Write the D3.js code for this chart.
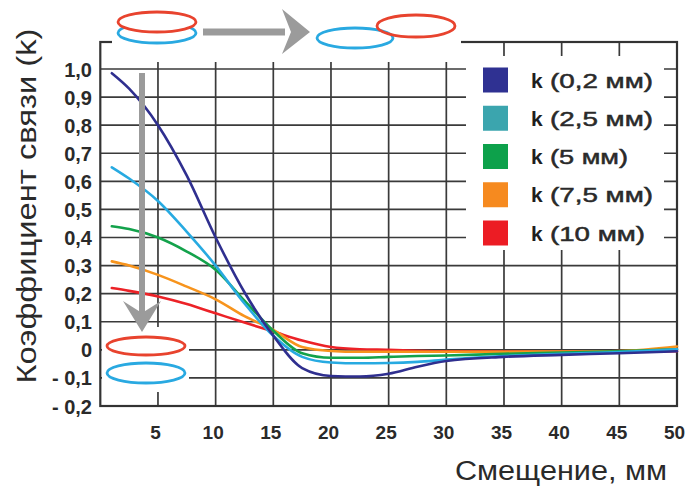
<!DOCTYPE html>
<html>
<head>
<meta charset="utf-8">
<script src="https://cdn.jsdelivr.net/npm/d3@7"></script>
<style>
  html, body { margin: 0; padding: 0; background: #fff; }
  svg { display: block; font-family: "Liberation Sans", Arial, sans-serif; }
</style>
</head>
<body>
<svg id="chart" width="691" height="490"></svg>
<script>
// Displacement of the coils, mm
const offsets = [1, 2.5, 5, 7.5, 10, 12.5, 15, 17.5, 20, 22.5, 25, 27.5, 30, 35, 40, 45, 50];

// Coupling coefficient k for each vertical gap between the coils
const k02  = [0.985, 0.93, 0.80, 0.62, 0.40, 0.205, 0.05, -0.065, -0.093, -0.095, -0.085, -0.06, -0.04, -0.025, -0.018, -0.012, -0.005];
const k25  = [0.65, 0.61, 0.53, 0.42, 0.30, 0.165, 0.05, -0.025, -0.045, -0.048, -0.047, -0.043, -0.035, -0.022, -0.014, -0.008, 0.002];
const k5   = [0.44, 0.43, 0.40, 0.35, 0.285, 0.175, 0.068, -0.012, -0.028, -0.028, -0.025, -0.022, -0.02, -0.014, -0.01, -0.005, 0.002];
const k75  = [0.315, 0.30, 0.267, 0.225, 0.18, 0.12, 0.071, 0.01, -0.004, -0.007, -0.007, -0.007, -0.007, -0.007, -0.006, -0.004, 0.012];
const k10  = [0.22, 0.21, 0.19, 0.163, 0.13, 0.097, 0.065, 0.033, 0.01, 0.002, 0.0, -0.003, -0.005, -0.006, -0.006, -0.006, -0.005];

const seriesGaps = ["(0,2 мм)", "(2,5 мм)", "(5 мм)", "(7,5 мм)", "(10 мм)"];
const seriesValues = [k02, k25, k5, k75, k10];
const lineColors = ["#2f2f8f", "#27aae1", "#13a24b", "#f7941d", "#ec2227"];
const swatchColors = ["#2f3192", "#3ba5ae", "#0da14b", "#f68a1f", "#ec1c24"];

const xTicks = [5, 10, 15, 20, 25, 30, 35, 40, 45, 50];
const yTicks = [-0.2, -0.1, 0, 0.1, 0.2, 0.3, 0.4, 0.5, 0.6, 0.7, 0.8, 0.9, 1.0];

const svg = d3.select("#chart");

const frame = { left: 100.3, right: 677, top: 42, bottom: 406 };
const x = d3.scaleLinear().domain([0, 50]).range([100.3, 677]);
const y = d3.scaleLinear().domain([-0.2, 1.0]).range([406, 69]);

const gridColor = "#3a3a3a";
const textColor = "#2a2a2a";

// Grid
const grid = svg.append("g");
grid.selectAll("line.v").data(xTicks.filter(d => d < 50)).join("line")
  .attr("x1", d => x(d)).attr("x2", d => x(d))
  .attr("y1", frame.top).attr("y2", frame.bottom)
  .attr("stroke", gridColor).attr("stroke-width", 1.7);
grid.selectAll("line.h").data(yTicks.filter(d => d > -0.2)).join("line")
  .attr("x1", frame.left).attr("x2", frame.right)
  .attr("y1", d => y(d)).attr("y2", d => y(d))
  .attr("stroke", gridColor).attr("stroke-width", 1.7);

// Frame
svg.append("rect")
  .attr("x", frame.left).attr("y", frame.top)
  .attr("width", frame.right - frame.left).attr("height", frame.bottom - frame.top)
  .attr("fill", "none").attr("stroke", "#333").attr("stroke-width", 2.2);

// Axis tick labels
const fmt = d => {
  if (Math.abs(d) < 1e-9) return "0";
  const s = Math.abs(d).toFixed(1).replace(".", ",");
  return d < 0 ? "- " + s : s;
};
const yAxis = d3.axisLeft(y).tickValues(yTicks).tickFormat(fmt).tickSize(0).tickPadding(0);
const gy = svg.append("g").attr("transform", "translate(92,0)").call(yAxis);
gy.select(".domain").remove();
gy.selectAll("text")
  .attr("x", 0).attr("dy", "0.35em")
  .attr("font-size", 20).attr("font-weight", "bold").attr("fill", textColor)
  .attr("font-family", "'Liberation Sans', Arial, sans-serif");

const xAxis = d3.axisBottom(x).tickValues(xTicks).tickFormat(d => d).tickSize(0).tickPadding(0);
const gx = svg.append("g").attr("transform", "translate(-3,425)").call(xAxis);
gx.select(".domain").remove();
gx.selectAll("text")
  .attr("y", 0).attr("dy", "0.71em")
  .attr("font-size", 19).attr("font-weight", "bold").attr("fill", textColor)
  .attr("font-family", "'Liberation Sans', Arial, sans-serif");

// Curves
const line = d3.line()
  .x((d, i) => x(offsets[i]))
  .y(d => y(d))
  .curve(d3.curveMonotoneX);
const curveOrder = [4, 3, 2, 1, 0];
svg.append("g").selectAll("path").data(curveOrder).join("path")
  .attr("d", i => line(seriesValues[i]))
  .attr("fill", "none")
  .attr("stroke", i => lineColors[i])
  .attr("stroke-width", 2.6)
  .attr("stroke-linecap", "round");

// White panels over the grid
svg.append("rect").attr("x", 112).attr("y", 0).attr("width", 349).attr("height", 62).attr("fill", "#fff");
svg.append("rect").attr("x", 466).attr("y", 56).attr("width", 198).attr("height", 194).attr("fill", "#fff");
svg.append("rect").attr("x", 102).attr("y", 327).attr("width", 87).attr("height", 65).attr("fill", "#fff");

// Coil diagrams
const red = "#e8432e", blue = "#29a9e1", arrowGray = "#9b9b9b";
const coils = svg.append("g").attr("fill", "none").attr("stroke-width", 2.8);
coils.append("ellipse").attr("cx", 157).attr("cy", 33).attr("rx", 39).attr("ry", 10).attr("stroke", blue);
coils.append("ellipse").attr("cx", 157).attr("cy", 22).attr("rx", 39).attr("ry", 10).attr("stroke", red).attr("fill", "#fff");
coils.append("ellipse").attr("cx", 355).attr("cy", 38).attr("rx", 38).attr("ry", 10).attr("stroke", blue);
coils.append("ellipse").attr("cx", 416).attr("cy", 26).attr("rx", 39).attr("ry", 11).attr("stroke", red);
coils.append("ellipse").attr("cx", 146).attr("cy", 346).attr("rx", 39).attr("ry", 9).attr("stroke", red);
coils.append("ellipse").attr("cx", 146).attr("cy", 373).attr("rx", 39).attr("ry", 10).attr("stroke", blue);

// Gray arrows
svg.append("rect").attr("x", 203).attr("y", 28.5).attr("width", 82).attr("height", 7).attr("fill", arrowGray);
svg.append("polygon").attr("points", "282,9 310,32 282,54 291,32").attr("fill", arrowGray);
svg.append("rect").attr("x", 139).attr("y", 73).attr("width", 6).attr("height", 240).attr("fill", arrowGray);
svg.append("polygon").attr("points", "123,301 142,313 161,301 142,332").attr("fill", arrowGray);

// Legend
const legend = svg.append("g");
const rowY = d3.scalePoint().domain(d3.range(5)).range([80, 233]);
const gapWidths = [103, 103, 78, 103, 95];
seriesGaps.forEach((gap, i) => {
  const cy = rowY(i);
  legend.append("rect").attr("x", 483).attr("y", cy - 12.5).attr("width", 25).attr("height", 25)
    .attr("fill", swatchColors[i]);
  legend.append("text").attr("x", 531).attr("y", cy + 7.5)
    .attr("font-size", 21).attr("font-weight", "bold").attr("fill", "#1e1e1e")
    .text("k");
  legend.append("text").attr("x", 550).attr("y", cy + 7.5)
    .attr("font-size", 21).attr("fill", textColor)
    .attr("stroke", textColor).attr("stroke-width", 0.5)
    .attr("textLength", gapWidths[i]).attr("lengthAdjust", "spacingAndGlyphs")
    .text(gap);
});

// Axis titles
svg.append("text")
  .attr("transform", "translate(36,206) rotate(-90)")
  .attr("text-anchor", "middle")
  .attr("font-size", 27).attr("fill", textColor)
  .attr("textLength", 355).attr("lengthAdjust", "spacingAndGlyphs")
  .text("Коэффициент связи (k)");
svg.append("text")
  .attr("x", 455).attr("y", 480)
  .attr("font-size", 27).attr("fill", textColor)
  .attr("textLength", 212).attr("lengthAdjust", "spacingAndGlyphs")
  .text("Смещение, мм");
</script>
</body>
</html>
